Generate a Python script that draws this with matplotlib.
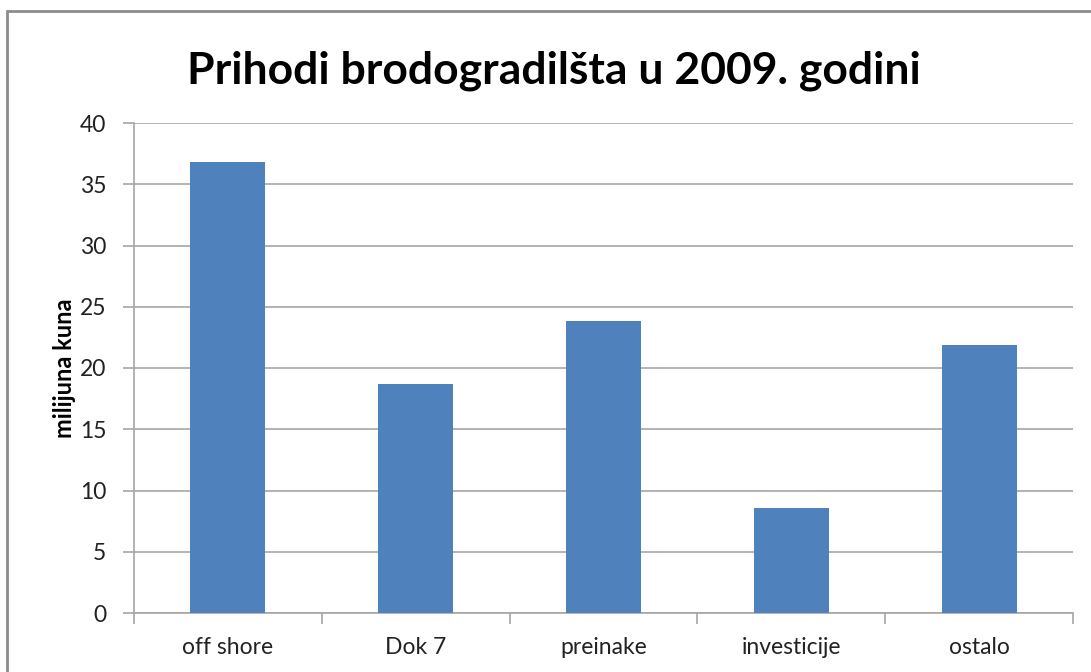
import matplotlib
matplotlib.use("Agg")
import matplotlib.pyplot as plt
from matplotlib.patches import Rectangle

# ----- data -----
categories = ["off shore", "Dok 7", "preinake", "investicije", "ostalo"]
values = [36.8, 18.7, 23.8, 8.6, 21.9]
yticks = [0, 5, 10, 15, 20, 25, 30, 35, 40]

bar_color = "#4f81bd"
grid_color = "#a6a6a6"

plt.rcParams["font.family"] = ["Lato", "DejaVu Sans"]

fig = plt.figure(figsize=(10.91, 6.72), dpi=100)

# outer chart frame (cut off at right and bottom like the screenshot)
fig.patches.append(Rectangle((7 / 1091, -0.05), 1.2, 1 - 11 / 672 + 0.05,
                             transform=fig.transFigure, fill=False,
                             edgecolor="#8c8c8c", linewidth=2))

ax = fig.add_axes([134 / 1091, 1 - 613 / 672, (1073 - 134) / 1091, (613 - 123) / 672])

x = range(len(categories))
ax.bar(x, values, width=0.4, color=bar_color, zorder=3)

ax.set_xlim(-0.5, len(categories) - 0.5)
ax.set_ylim(0, 40)
ax.set_yticks(yticks)
ax.yaxis.grid(True, color=grid_color, linewidth=1.2, zorder=0)

# category labels in the middle, tick marks on the boundaries
ax.set_xticks(list(x))
ax.set_xticklabels(categories, fontsize=16.5, color="#222222")
ax.tick_params(axis="x", length=0, pad=17)
ax.set_xticks([i - 0.5 for i in range(len(categories) + 1)], minor=True)
ax.tick_params(axis="x", which="minor", length=8, color=grid_color, width=1.2)
ax.tick_params(axis="y", length=8, color=grid_color, width=1.2, labelsize=16.5,
               labelcolor="#222222", pad=12)

for side in ["top", "right"]:
    ax.spines[side].set_visible(False)
for side in ["left", "bottom"]:
    ax.spines[side].set_color(grid_color)
    ax.spines[side].set_linewidth(1.2)

ax.set_ylabel("milijuna kuna", fontsize=17, fontweight="bold")
ax.yaxis.set_label_coords(-0.062, 0.5)

fig.text(554 / 1091, 1 - 71 / 672, "Prihodi brodogradilšta u 2009. godini",
         ha="center", va="center", fontsize=32, fontweight="bold")

fig.savefig("out.png", dpi=100)
